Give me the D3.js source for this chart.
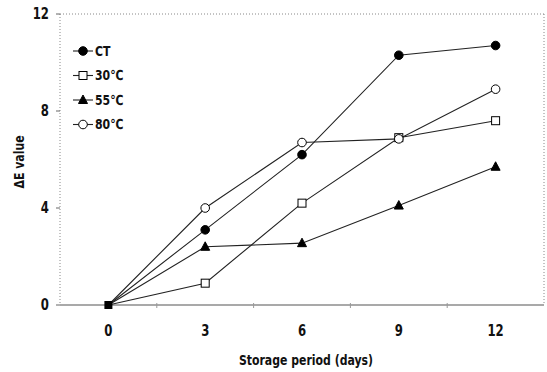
<!DOCTYPE html>
<html>
<head>
<meta charset="utf-8">
<script src="https://cdn.jsdelivr.net/npm/d3@7"></script>
<style>
  body { margin: 0; background: #fff; }
  text { font-family: "DejaVu Sans", sans-serif; font-weight: bold; fill: #111; }
</style>
</head>
<body>
<div id="chart"></div>
<script>
const days = ["0", "3", "6", "9", "12"];
const yTicks = [0, 4, 8, 12];
const ctValues = [0, 3.1, 6.2, 10.3, 10.7];
const t30Values = [0, 0.9, 4.2, 6.9, 7.6];
const t55Values = [0, 2.4, 2.55, 4.1, 5.7];
const t80Values = [0, 4.0, 6.7, 6.85, 8.9];

const seriesList = [
    { name: "CT", values: ctValues, shape: "circle", filled: true },
    { name: "30℃", values: t30Values, shape: "square", filled: false },
    { name: "55℃", values: t55Values, shape: "triangle", filled: true },
    { name: "80℃", values: t80Values, shape: "circle", filled: false }
];

const width = 547;
const height = 372;
const margin = { top: 14, right: 3, bottom: 67, left: 60 };
const squash = 0.78; // the original font is narrow

const svg = d3.select("#chart")
    .append("svg")
    .attr("width", width)
    .attr("height", height);

const x = d3.scaleBand()
    .domain(days)
    .range([margin.left, width - margin.right]);

const y = d3.scaleLinear()
    .domain([0, 12])
    .range([height - margin.bottom, margin.top]);

const cx = d => x(d) + x.bandwidth() / 2;

// frame: dotted left / top / right, solid bottom
const frame = svg.append("g")
    .attr("stroke", "#888")
    .attr("stroke-width", 1)
    .attr("stroke-dasharray", "1,2")
    .attr("fill", "none");
frame.append("line")
    .attr("x1", margin.left).attr("x2", margin.left)
    .attr("y1", y(12)).attr("y2", y(0));
frame.append("line")
    .attr("x1", margin.left).attr("x2", width - margin.right)
    .attr("y1", y(12)).attr("y2", y(12));
frame.append("line")
    .attr("x1", width - margin.right).attr("x2", width - margin.right)
    .attr("y1", y(12)).attr("y2", y(0));

svg.append("line")
    .attr("x1", margin.left).attr("x2", width - margin.right)
    .attr("y1", y(0)).attr("y2", y(0))
    .attr("stroke", "#555")
    .attr("stroke-width", 1.2);

// y axis ticks and labels
const yAxis = svg.append("g");
yAxis.selectAll("line")
    .data(yTicks)
    .enter()
    .append("line")
    .attr("x1", margin.left - 4)
    .attr("x2", margin.left)
    .attr("y1", d => y(d))
    .attr("y2", d => y(d))
    .attr("stroke", "#666");
yAxis.selectAll("text")
    .data(yTicks)
    .enter()
    .append("text")
    .attr("transform", d => `translate(${margin.left - 11},${y(d)}) scale(${squash},1)`)
    .attr("dy", "0.35em")
    .attr("text-anchor", "end")
    .attr("font-size", 15)
    .text(d => d);

// x axis: ticks between categories, labels centred
const xAxis = svg.append("g");
xAxis.selectAll("line")
    .data(days.slice(1))
    .enter()
    .append("line")
    .attr("x1", d => x(d))
    .attr("x2", d => x(d))
    .attr("y1", y(0) - 2)
    .attr("y2", y(0) + 3)
    .attr("stroke", "#999");
xAxis.selectAll("text")
    .data(days)
    .enter()
    .append("text")
    .attr("transform", d => `translate(${cx(d)},${y(0) + 31}) scale(${squash},1)`)
    .attr("text-anchor", "middle")
    .attr("font-size", 15)
    .text(d => d);

svg.append("text")
    .attr("transform", `translate(306,365) scale(${squash},1)`)
    .attr("text-anchor", "middle")
    .attr("font-size", 14)
    .text("Storage period (days)");

svg.append("text")
    .attr("transform", `translate(24,162) rotate(-90) scale(${squash},1)`)
    .attr("text-anchor", "middle")
    .attr("font-size", 14)
    .text("ΔE value");

function drawMarker(g, shape, filled, px, py) {
    const fill = filled ? "#000" : "#fff";
    if (shape === "circle") {
        g.append("circle").attr("cx", px).attr("cy", py).attr("r", 4.3)
            .attr("fill", fill).attr("stroke", "#000").attr("stroke-width", 1);
    } else if (shape === "square") {
        g.append("rect").attr("x", px - 4).attr("y", py - 4)
            .attr("width", 8).attr("height", 8)
            .attr("fill", fill).attr("stroke", "#000").attr("stroke-width", 1);
    } else {
        g.append("path")
            .attr("d", `M${px},${py - 5}L${px + 4.5},${py + 3.5}L${px - 4.5},${py + 3.5}Z`)
            .attr("fill", fill).attr("stroke", "#000").attr("stroke-width", 1);
    }
}

const line = d3.line()
    .x((d, i) => cx(days[i]))
    .y(d => y(d));

seriesList.forEach(s => {
    svg.append("path")
        .datum(s.values)
        .attr("d", line)
        .attr("fill", "none")
        .attr("stroke", "#222")
        .attr("stroke-width", 1.1);
});

seriesList.forEach(s => {
    const g = svg.append("g");
    s.values.forEach((v, i) => {
        if (i === 0) return;
        drawMarker(g, s.shape, s.filled, cx(days[i]), y(v));
    });
});

// the overlapping markers at day 0 show as one black square
svg.append("rect")
    .attr("x", cx("0") - 4).attr("y", y(0) - 4)
    .attr("width", 8).attr("height", 8)
    .attr("fill", "#000");

// legend
const legend = svg.append("g");
seriesList.forEach((s, i) => {
    const ly = 51 + i * 24.5;
    legend.append("line")
        .attr("x1", 73).attr("x2", 93)
        .attr("y1", ly).attr("y2", ly)
        .attr("stroke", "#222").attr("stroke-width", 1.1);
    drawMarker(legend, s.shape, s.filled, 83, ly);
    legend.append("text")
        .attr("transform", `translate(95,${ly}) scale(${squash},1)`)
        .attr("dy", "0.35em")
        .attr("font-size", 14)
        .text(s.name);
});
</script>
</body>
</html>
